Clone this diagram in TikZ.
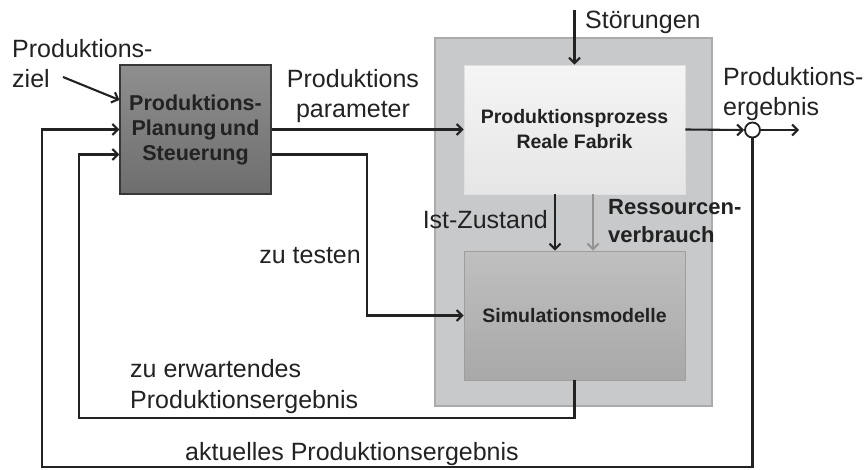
\documentclass[tikz,border=0pt]{standalone}
\usepackage{fontspec}
\setmainfont{Liberation Sans}
\usetikzlibrary{arrows.meta,calc}
\definecolor{ink}{HTML}{222222}
\definecolor{panelfill}{HTML}{C8C9CB}
\definecolor{paneldraw}{HTML}{ABABAD}
\tikzset{
  conn/.style={draw=ink, line width=2.1pt},
  arr/.style={conn, -{Straight Barb[length=5.5pt,width=11pt]}},
  garr/.style={draw=gray!85, line width=2.1pt, -{Straight Barb[length=5.5pt,width=11pt]}},
  lbl/.style={inner sep=0pt, text=ink, font=\fontsize{25}{30}\selectfont},
  blbl/.style={inner sep=0pt, text=ink, font=\fontsize{22}{28}\selectfont\bfseries},
}
\begin{document}
\begin{tikzpicture}[x=1pt,y=-1pt]
\useasboundingbox (0,0) rectangle (867,469);
% outer panel
\node[draw=paneldraw, fill=panelfill, line width=1.2pt, minimum width=277, minimum height=368, inner sep=0] (panel) at (573.5,222) {};
% boxes
\node[draw=ink!90, line width=1.2pt, top color=black!44, bottom color=black!57, minimum width=151, minimum height=129, inner sep=0, align=center, text=ink, font=\fontsize{21.5}{25}\selectfont\bfseries] (lb) at (195.5,129.5) {Produktions-\\Planung\,und\\Steuerung};
\node[draw=black!12, line width=0.8pt, top color=black!4, bottom color=black!10, minimum width=221, minimum height=129, inner sep=0, align=center, text=ink, font=\fontsize{19.5}{25}\selectfont\bfseries] (ub) at (574.5,129.5) {Produktionsprozess\\Reale Fabrik};
\node[draw=black!38, line width=0.8pt, top color=black!25, bottom color=black!34, minimum width=221, minimum height=129, inner sep=0, align=center, text=ink, font=\fontsize{19.5}{25}\selectfont\bfseries] (sim) at (574.5,315.5) {Simulationsmodelle};
\node[draw=ink, line width=1.8pt, fill=white, circle, minimum size=15, inner sep=0] (circ) at (752.5,130) {};
% coordinates
\coordinate (zs) at (63,77);
\coordinate (st) at (574.5,10);
\coordinate (out) at (799,130);
\coordinate (t1) at (367,154.5);
\coordinate (fb1) at (42,467);
\coordinate (fb2) at (79,418);
% connectors
\draw[arr] (zs) -- ([yshift=29.5pt]lb.west);
\draw[arr] (lb.east) -- (ub.west);
\draw[arr] ([yshift=-25pt]lb.east) -- (t1) |- (sim.west);
\draw[arr] (st) -- (ub.north);
\draw[arr] ([xshift=-19.5pt]ub.south) -- ([xshift=-19.5pt]sim.north);
\draw[garr] ([xshift=18.5pt]ub.south) -- ([xshift=18.5pt]sim.north);
\draw[arr] (ub.east) -- (circ.west);
\draw[arr] (circ.east) -- (out);
\draw[arr] (circ.south) |- (fb1) |- (lb.west);
\draw[arr] (sim.south) |- (fb2) |- ([yshift=-25pt]lb.west);
% labels
\node[lbl, anchor=north west, align=left] (l1) at (12,39) {Produktions-\\ziel};
\node[lbl, anchor=north, align=center] (l2) at (353,69) {Produktions\\parameter};
\node[lbl, anchor=north west, align=left] (l3) at (723,67) {Produktions-\\ergebnis};
\node[lbl, anchor=base west] (l4) at (585,28) {Störungen};
\node[lbl, anchor=base east] (l5) at (548,228) {Ist-Zustand};
\node[blbl, anchor=north west, align=left] (l6) at (608,199) {Ressourcen-\\verbrauch};
\node[lbl, anchor=base east] (l7) at (361,263) {zu testen};
\node[lbl, anchor=north west, align=left, font=\fontsize{25}{31}\selectfont] (l8) at (130,359) {zu erwartendes\\Produktionsergebnis};
\node[lbl, anchor=base west] (l9) at (185,460) {aktuelles Produktionsergebnis};
\end{tikzpicture}
\end{document}
